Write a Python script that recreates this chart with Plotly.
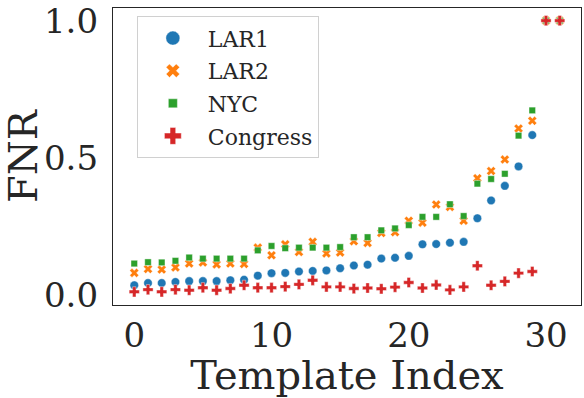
import plotly.graph_objects as go

# FNR per template index
template_idx = list(range(32))

lar1 = [0.036, 0.044, 0.044, 0.048, 0.051, 0.051, 0.051, 0.054, 0.056, 0.071,
        0.080, 0.081, 0.086, 0.088, 0.090, 0.098, 0.108, 0.111, 0.133, 0.136,
        0.143, 0.185, 0.186, 0.191, 0.194, 0.280, 0.345, 0.398, 0.469, 0.583,
        1.0, 1.0]
lar2 = [0.081, 0.095, 0.093, 0.101, 0.115, 0.119, 0.112, 0.115, 0.113, 0.173,
        0.145, 0.185, 0.157, 0.194, 0.152, 0.155, 0.196, 0.190, 0.226, 0.229,
        0.271, 0.264, 0.330, 0.321, 0.271, 0.426, 0.452, 0.494, 0.607, 0.635,
        1.0, 1.0]
nyc = [0.115, 0.120, 0.119, 0.125, 0.137, 0.133, 0.133, 0.133, 0.133, 0.163,
       0.179, 0.171, 0.173, 0.173, 0.173, 0.175, 0.211, 0.211, 0.236, 0.243,
       0.255, 0.285, 0.285, 0.331, 0.288, 0.406, 0.423, 0.442, 0.581, 0.673,
       1.0, 1.0]
congress = [0.012, 0.020, 0.012, 0.020, 0.018, 0.027, 0.018, 0.024, 0.036, 0.027,
            0.027, 0.031, 0.039, 0.054, 0.030, 0.030, 0.024, 0.026, 0.023, 0.029,
            0.046, 0.026, 0.037, 0.019, 0.030, 0.107, 0.036, 0.050, 0.080, 0.086,
            1.0, 1.0]

names = ["LAR1", "LAR2", "NYC", "Congress"]
series = [lar1, lar2, nyc, congress]
colors = ["#1f77b4", "#ff7f0e", "#2ca02c", "#d62728"]
symbols = ["circle", "x", "square", "cross"]
sizes = [8.5, 8, 6.5, 8.5]
leg_sizes = [14, 12, 9, 14]

FONT = "DejaVu Serif"
INK = "#262626"

fig = go.Figure()
for name, ys, c, sym, sz in zip(names, series, colors, symbols, sizes):
    fig.add_trace(go.Scatter(
        x=template_idx, y=ys, mode="markers", name=name, showlegend=False,
        marker=dict(color=c, symbol=sym, size=sz, line=dict(color="white", width=0.4)),
    ))
# legend-only entries so legend markers can be bigger than the plot markers
for name, c, sym, sz in zip(names, colors, symbols, leg_sizes):
    fig.add_trace(go.Scatter(
        x=[None], y=[None], mode="markers", name=name, legendgroup=name,
        marker=dict(color=c, symbol=sym, size=sz, line=dict(color="white", width=0.4)),
    ))

axis_common = dict(showline=True, mirror=True, linecolor=INK, linewidth=1.3,
                   showgrid=False, zeroline=False, ticks="", automargin=False,
                   ticklabeloverflow="allow",
                   tickfont=dict(family=FONT, size=34, color=INK))

fig.update_layout(
    width=584, height=398,
    margin=dict(l=113, r=3, t=8, b=93),
    plot_bgcolor="white", paper_bgcolor="white",
    font=dict(family=FONT, color=INK),
    xaxis=dict(range=[-1.55, 32.55], tickvals=[0, 10, 20, 30],
               ticklabelstandoff=0,
               title=dict(text="Template Index", font=dict(family=FONT, size=40, color=INK),
                          standoff=4),
               **axis_common),
    yaxis=dict(range=[-0.036, 1.046], tickvals=[0, 0.5, 1.0], tickformat=".1f",
               ticklabelstandoff=7,
               title=dict(text="FNR", font=dict(family=FONT, size=40, color=INK),
                          standoff=20),
               **axis_common),
    legend=dict(x=0.051, y=0.972, xanchor="left", yanchor="top",
                bgcolor="white", bordercolor="#d0d0d0", borderwidth=1,
                font=dict(family=FONT, size=22, color=INK),
                tracegroupgap=1, itemwidth=60),
)

# the page gets the browser's default 8px body margin otherwise
fig.write_html("out.html", config={"displayModeBar": False},
               post_script="document.body.style.margin='0';")
